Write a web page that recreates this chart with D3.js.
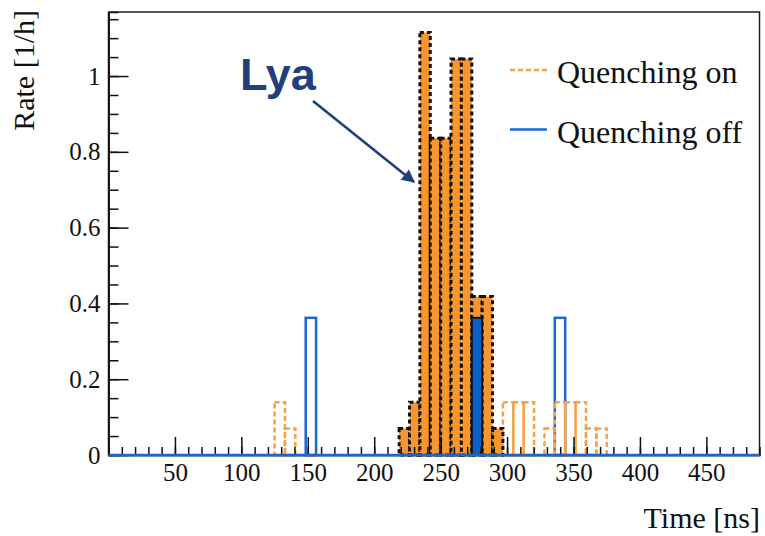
<!DOCTYPE html>
<html><head><meta charset="utf-8">
<script src="https://cdn.jsdelivr.net/npm/d3@7"></script>
<style>body{margin:0;background:#fff} svg{display:block}</style>
</head><body>
<svg id="chart" width="765" height="536"></svg>
<script>
// Histogram binning: 64 bins over 0-500 ns
const binWidth = 500 / 64;

// Quenching on: bin index and rate [1/h]
const onBins  = [16, 17, 28, 29, 30, 31, 32, 33, 34, 35, 36, 37, 38, 39, 40, 42, 43, 44, 45, 46, 47];
const onRates = [0.139, 0.070, 0.070, 0.139, 1.115, 0.836, 0.836, 1.045, 1.045, 0.418, 0.418, 0.070,
                 0.139, 0.139, 0.139, 0.070, 0.139, 0.139, 0.139, 0.070, 0.070];

// Quenching off: bin index and rate [1/h]
const offBins  = [19, 35, 43];
const offRates = [0.362, 0.362, 0.362];

// First and last bin of the Lya time window (filled)
const lyaWindow = [28, 37];

const xTicks = [50, 100, 150, 200, 250, 300, 350, 400, 450];
const yTicks = [0, 0.2, 0.4, 0.6, 0.8, 1];
const yTickLabels = ["0", "0.2", "0.4", "0.6", "0.8", "1"];
const legendLabels = ["Quenching on", "Quenching off"];

const ORANGE_LINE = "#f8a04a", ORANGE_FILL = "#f7962f";
const BLUE = "#1768cf", BLUE_FILL = "#0b5fc6";
const NAVY = "#203f7c";

const svg = d3.select("#chart");
const x = d3.scaleLinear().domain([0, 490]).range([108.5, 759.5]);
const y = d3.scaleLinear().domain([0, 1.169]).range([455, 12]);

const onData = onBins.map((b, i) => ({bin: b, rate: onRates[i]}));
const offData = offBins.map((b, i) => ({bin: b, rate: offRates[i]}));
const inWindow = d => d.bin >= lyaWindow[0] && d.bin <= lyaWindow[1];

const binRect = sel => sel
  .attr("x", d => x(d.bin * binWidth))
  .attr("width", d => x((d.bin + 1) * binWidth) - x(d.bin * binWidth))
  .attr("y", d => y(d.rate))
  .attr("height", d => y(0) - y(d.rate));

// Frame
svg.append("rect")
  .attr("x", x(0)).attr("y", y(1.169))
  .attr("width", x(490) - x(0)).attr("height", y(0) - y(1.169))
  .attr("fill", "none").attr("stroke", "#222").attr("stroke-width", 1.5);

// Quenching off, outline
svg.append("g").selectAll("rect").data(offData.filter(d => !inWindow(d))).join("rect")
  .call(binRect)
  .attr("fill", "none").attr("stroke", BLUE).attr("stroke-width", 2.5);

// Quenching on, dashed outline
svg.append("g").selectAll("rect").data(onData.filter(d => !inWindow(d))).join("rect")
  .call(binRect)
  .attr("fill", "none").attr("stroke", ORANGE_LINE).attr("stroke-width", 2.5)
  .attr("stroke-dasharray", "5,3");

// Lya window, quenching on (filled)
svg.append("g").selectAll("rect").data(onData.filter(inWindow)).join("rect")
  .call(binRect)
  .attr("fill", ORANGE_FILL).attr("stroke", "#111").attr("stroke-width", 3)
  .attr("stroke-dasharray", "4,3");

// Lya window, quenching off (filled)
svg.append("g").selectAll("rect").data(offData.filter(inWindow)).join("rect")
  .call(binRect)
  .attr("fill", BLUE_FILL).attr("stroke", "#111").attr("stroke-width", 2);

// Axes
const fontSerif = "'Liberation Serif', 'Times New Roman', serif";
const styleAxis = g => {
  g.select(".domain").attr("stroke", "#111").attr("stroke-width", 1.5);
  g.selectAll(".tick line").attr("stroke", "#111").attr("stroke-width", 1.5);
  g.selectAll("text").attr("font-family", fontSerif).attr("fill", "#111");
};

svg.append("g").attr("transform", `translate(0,${y(0)})`)
  .call(d3.axisBottom(x).tickValues(d3.range(10, 490, 10)).tickSize(-8).tickFormat(""))
  .call(styleAxis);
svg.append("g").attr("transform", `translate(0,${y(0)})`)
  .call(d3.axisBottom(x).tickValues(xTicks).tickSize(-18).tickSizeOuter(0).tickPadding(8))
  .call(styleAxis)
  .selectAll("text").attr("font-size", 25);

svg.append("g").attr("transform", `translate(${x(0)},0)`)
  .call(d3.axisLeft(y).tickValues(d3.range(1, 24).map(k => k * 0.05)).tickSize(-10).tickFormat(""))
  .call(styleAxis);
svg.append("g").attr("transform", `translate(${x(0)},0)`)
  .call(d3.axisLeft(y).tickValues(yTicks).tickSize(-20).tickSizeOuter(0).tickPadding(8)
    .tickFormat((d, i) => yTickLabels[i]))
  .call(styleAxis)
  .selectAll("text").attr("font-size", 25);

// Quenching-off baseline along zero
svg.append("line")
  .attr("x1", x(0)).attr("x2", x(490)).attr("y1", y(0)).attr("y2", y(0))
  .attr("stroke", BLUE).attr("stroke-width", 2.5);

// Axis titles
svg.append("text")
  .attr("x", 760).attr("y", 528).attr("text-anchor", "end")
  .attr("font-family", fontSerif).attr("font-size", 30).attr("fill", "#111")
  .text("Time [ns]");
svg.append("text")
  .attr("transform", "translate(34,10) rotate(-90)").attr("text-anchor", "end")
  .attr("font-family", fontSerif).attr("font-size", 30).attr("fill", "#111")
  .text("Rate [1/h]");

// Legend
const legend = svg.append("g");
const legendStyles = [
  {stroke: ORANGE_LINE, dash: "5,3", y: 70},
  {stroke: BLUE, dash: null, y: 129.5}
];
legendLabels.forEach((label, i) => {
  const s = legendStyles[i];
  legend.append("line")
    .attr("x1", 510).attr("x2", 547).attr("y1", s.y).attr("y2", s.y)
    .attr("stroke", s.stroke).attr("stroke-width", 2.5)
    .attr("stroke-dasharray", s.dash);
  legend.append("text")
    .attr("x", 557).attr("y", s.y + 13)
    .attr("font-family", fontSerif).attr("font-size", 32).attr("fill", "#111")
    .text(label);
});

// Lya annotation with arrow
svg.append("defs").append("marker")
  .attr("id", "arrowhead").attr("viewBox", "0 0 10 10")
  .attr("refX", 9).attr("refY", 5)
  .attr("markerWidth", 6).attr("markerHeight", 5).attr("markerUnits", "strokeWidth")
  .attr("orient", "auto")
  .append("path").attr("d", "M0,0 L10,5 L0,10 Z").attr("fill", NAVY);
svg.append("line")
  .attr("x1", 313).attr("y1", 101).attr("x2", 414).attr("y2", 182)
  .attr("stroke", NAVY).attr("stroke-width", 2.6)
  .attr("marker-end", "url(#arrowhead)");
svg.append("text")
  .attr("x", 240).attr("y", 90)
  .attr("font-family", "'Liberation Sans', Arial, sans-serif")
  .attr("font-weight", "bold").attr("font-size", 45).attr("fill", NAVY)
  .text("Lya");
</script>
</body></html>
